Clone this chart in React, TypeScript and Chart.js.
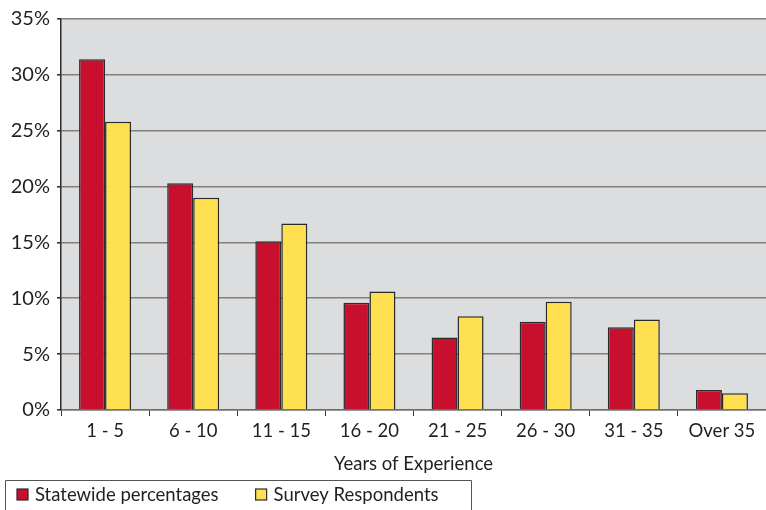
import { useEffect, useRef } from 'react';
import { Chart, registerables } from 'chart.js';

Chart.register(...registerables);

const categories = ['1 - 5', '6 - 10', '11 - 15', '16 - 20', '21 - 25', '26 - 30', '31 - 35', 'Over 35'];
const statewide = [31.4, 20.3, 15.1, 9.6, 6.5, 7.9, 7.4, 1.8];
const survey = [25.8, 19.0, 16.7, 10.6, 8.4, 9.7, 8.1, 1.5];
const seriesLabels = ['Statewide percentages', 'Survey Respondents'];
const seriesColors = ['#C8102E', '#FFE050'];
const axisTitle = 'Years of Experience';
const yMin = 0;
const yMax = 35;
const yStep = 5;

const FONT = 'Lato, "Open Sans", sans-serif';
const TEXT = '#231F20';

const bgPlugin = {
  id: 'plotBg',
  beforeDraw(chart: any) {
    const { ctx, chartArea } = chart;
    const { left, top, right, bottom } = chartArea;
    ctx.save();
    ctx.fillStyle = '#DCDDDF';
    ctx.fillRect(left, top, right - left, bottom - top);
    ctx.restore();
  },
};

// Custom boxed legend drawn below the axis title
const legendPlugin = {
  id: 'boxedLegend',
  afterDraw(chart: any) {
    const { ctx } = chart;
    const boxTop = 480.5;
    const cy = 495;
    const fontSize = 18.5;
    ctx.save();
    ctx.font = `${fontSize}px ${FONT}`;
    ctx.textBaseline = 'middle';
    ctx.textAlign = 'left';
    let x = 17;
    chart.data.datasets.forEach((ds: any, i: number) => {
      ctx.fillStyle = ds.backgroundColor;
      ctx.fillRect(x, cy - 6, 11, 11);
      ctx.strokeStyle = '#2B2B2B';
      ctx.lineWidth = 1.2;
      ctx.strokeRect(x, cy - 6, 11, 11);
      ctx.fillStyle = TEXT;
      ctx.fillText(ds.label, x + 18, cy);
      const w = ctx.measureText(ds.label).width;
      x = x + 18 + w + 37;
    });
    const right = Math.round(x - 37 + 32) + 0.5;
    ctx.strokeStyle = '#555';
    ctx.lineWidth = 1;
    ctx.beginPath();
    ctx.moveTo(5.5, chart.height + 5);
    ctx.lineTo(5.5, boxTop);
    ctx.lineTo(right, boxTop);
    ctx.lineTo(right, chart.height + 5);
    ctx.stroke();
    ctx.restore();
  },
};

export default function App() {
  const ref = useRef<HTMLCanvasElement | null>(null);

  useEffect(() => {
    document.body.style.margin = '0';
    const canvas = ref.current;
    if (!canvas) return;
    const chart = new Chart(canvas, {
      type: 'bar',
      data: {
        labels: categories,
        datasets: [
          {
            label: seriesLabels[0],
            data: statewide,
            backgroundColor: seriesColors[0],
            borderColor: '#2B2B2B',
            borderWidth: 1.5,
            categoryPercentage: 0.59,
            barPercentage: 1,
          },
          {
            label: seriesLabels[1],
            data: survey,
            backgroundColor: seriesColors[1],
            borderColor: '#2B2B2B',
            borderWidth: 1.5,
            categoryPercentage: 0.59,
            barPercentage: 1,
          },
        ],
      },
      options: {
        animation: false,
        responsive: false,
        maintainAspectRatio: false,
        layout: { padding: { top: 15, left: 0, right: 0, bottom: 35 } },
        plugins: {
          tooltip: { enabled: false },
          legend: { display: false },
        },
        scales: {
          x: {
            grid: {
              display: true,
              drawOnChartArea: false,
              drawTicks: true,
              tickLength: 6,
              tickColor: '#333',
              offset: true,
            },
            border: { display: true, color: '#6E6E6E', width: 1.5 },
            ticks: {
              color: TEXT,
              font: { family: FONT, size: 18.5 },
              padding: 4,
              maxRotation: 0,
              autoSkip: false,
            },
            title: {
              display: true,
              text: axisTitle,
              color: TEXT,
              font: { family: FONT, size: 18.5 },
              padding: { top: 1, bottom: 0 },
            },
            afterFit(scale: any) {
              scale.height = 65;
            },
          },
          y: {
            min: yMin,
            max: yMax,
            grid: {
              color: '#808080',
              lineWidth: 1.6,
              tickLength: 4,
              tickColor: '#333',
            },
            border: { display: true, color: '#2B2B2B', width: 1.5 },
            ticks: {
              stepSize: yStep,
              color: TEXT,
              font: { family: FONT, size: 20 },
              padding: 7,
              callback: (v: any) => `${v}%`,
            },
            afterFit(scale: any) {
              scale.width = 61;
            },
          },
        },
      },
      plugins: [bgPlugin, legendPlugin],
    });
    return () => chart.destroy();
  }, []);

  return <canvas ref={ref} width={766} height={510} style={{ display: 'block' }} />;
}
